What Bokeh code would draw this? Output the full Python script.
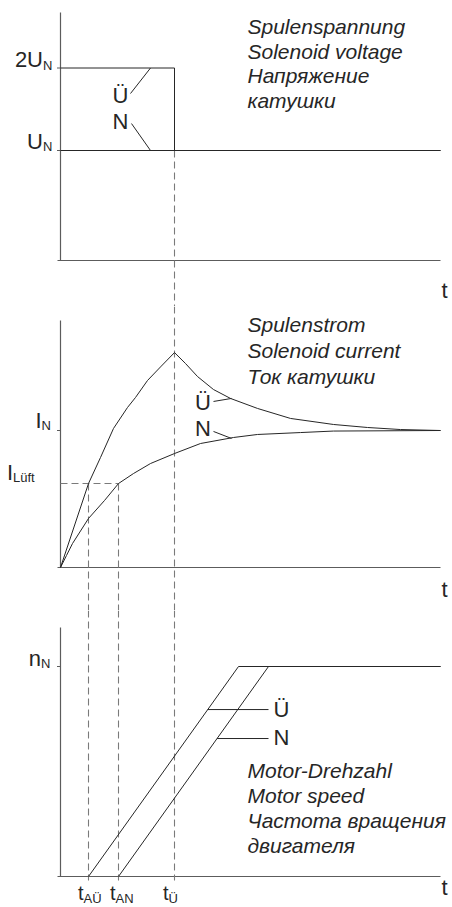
import numpy as np
from bokeh.plotting import figure
from bokeh.layouts import column
from bokeh.models import Range1d
from bokeh.embed import file_html
from bokeh.resources import INLINE
from bokeh.core.properties import value

# ---------------- data (time in diagram units, levels relative to nominal) ----------------
T_AU = 2.8      # t_AÜ : release with over-excitation
T_AN = 5.8      # t_AN : release with nominal voltage
T_U = 11.4      # t_Ü  : end of over-excitation
T_END = 38.0

# Panel 1: solenoid voltage (schematic levels)
V_UN = 1.0
V_2UN = 1.75
volt_u_t = [0.0, T_U, T_U, T_END]
volt_u_v = [V_2UN, V_2UN, V_UN, V_UN]
volt_n_t = [0.0, T_END]
volt_n_v = [V_UN, V_UN]

# Panel 2: solenoid current (I / I_N)
I_N = 1.0
I_LUFT = 0.613
cur_u_t = [0.0, 2.8, 4.0, 5.3, 6.7, 7.5, 8.7, 10.0, 11.4, 12.5, 13.7, 15.3, 17.0, 19.7, 23.0, 27.3, 30.7, 34.0, 38.0]
cur_u_i = [0.0, 0.613, 0.803, 1.015, 1.168, 1.241, 1.365, 1.464, 1.569, 1.489, 1.394, 1.299, 1.234, 1.161, 1.088, 1.044, 1.022, 1.007, 1.0]
cur_n_t = [0.0, 0.6, 1.2, 2.8, 4.4, 5.8, 7.3, 9.0, 11.4, 14.0, 17.3, 19.7, 24.0, 27.3, 38.0]
cur_n_i = [0.0, 0.088, 0.175, 0.358, 0.489, 0.613, 0.686, 0.759, 0.832, 0.905, 0.949, 0.971, 0.985, 0.996, 1.0]

# Panel 3: motor speed (n / n_N)
N_N = 1.0
spd_u_t = [T_AU, 17.8, T_END]
spd_u_n = [0.0, 1.0, 1.0]
spd_n_t = [T_AN, 20.8, T_END]
spd_n_n = [0.0, 1.0, 1.0]

texts_volt = ["Spulenspannung", "Solenoid voltage", "Напряжение", "катушки"]
texts_cur = ["Spulenstrom", "Solenoid current", "Ток катушки"]
texts_spd = ["Motor-Drehzahl", "Motor speed", "Частота вращения", "двигателя"]

# ---------------- styling / layout ----------------
FONT = value("Liberation Sans")
LINE = "#262626"
AXC = "#5c5c5c"
DASHC = "#7a7a7a"
TXT = "#262626"
W = 452
PX_PER_T = 10.0
X0 = -6.0
X1 = X0 + W / PX_PER_T
K_BASE = 0.37   # empirical baseline correction (fraction of font size)


def make_fig(height, y0, y1):
    p = figure(width=W, height=height, x_range=Range1d(X0, X1), y_range=Range1d(y0, y1),
               output_backend="svg", toolbar_location=None, min_border=0,
               x_axis_type=None, y_axis_type=None)
    p.grid.visible = False
    p.outline_line_color = None
    p.background_fill_color = "white"
    p.border_fill_color = "white"
    return p


def txt(p, x, y, s, size, align="left", style="normal", xo=0, yo=0):
    px = float(size.replace("px", ""))
    p.text(x=[x], y=[y], text=[s], text_font=FONT, text_font_size=size,
           text_font_style=style, text_align=align, text_baseline="alphabetic",
           text_color=TXT, x_offset=xo, y_offset=yo - K_BASE * px)


def sublabel(p, x, y, main, sub, size="22px", subsize="13px", xo=0, yo=0, sdy=2):
    txt(p, x, y, main, size, align="right", xo=xo, yo=yo)
    txt(p, x, y, sub, subsize, align="left", xo=xo, yo=yo + sdy)


def axes(p, top, ticks):
    p.line([0, 0], [0, top], line_color=AXC, line_width=1.2)
    p.line([-0.3, T_END], [0, 0], line_color=AXC, line_width=1.2)
    for tk in ticks:
        p.line([-0.35, 0.0], [tk, tk], line_color=AXC, line_width=1.2)


def dashed(p, xs, ys):
    p.line(xs, ys, line_color=DASHC, line_width=1.1, line_dash="7 4")


# ---------------- panel 1: voltage ----------------
ppu1, base1, top1, bot1 = 110.0, 260.0, 0.0, 306.0
y0_1, y1_1 = (base1 - bot1) / ppu1, (base1 - top1) / ppu1
p1 = make_fig(int(bot1 - top1), y0_1, y1_1)
axes(p1, 2.2545, [V_2UN, V_UN])
dashed(p1, [T_U, T_U], [V_UN, y0_1])
p1.line(volt_n_t, volt_n_v, line_color=LINE, line_width=1)
p1.line(volt_u_t, volt_u_v, line_color=LINE, line_width=1)
sublabel(p1, -1.75, V_2UN, "2U", "N")
sublabel(p1, -1.75, V_UN, "U", "N", yo=-1)
# leaders
p1.line([7.0, 9.0], [1.518, V_2UN], line_color=LINE, line_width=1)
p1.line([7.1, 9.0], [1.245, V_UN], line_color=LINE, line_width=1)
txt(p1, 6.0, 1.427, "Ü", "22px", align="center")
txt(p1, 6.0, 1.191, "N", "22px", align="center")
for i, s in enumerate(texts_volt):
    txt(p1, 18.7, 2.055 - i * 0.223, s, "21px", style="italic")
txt(p1, T_END, -0.345, "t", "22px", xo=1)

# ---------------- panel 2: current ----------------
ppu2, base2, top2, bot2 = 137.0, 567.0, 306.0, 610.0
y0_2, y1_2 = (base2 - bot2) / ppu2, (base2 - top2) / ppu2
p2 = make_fig(int(bot2 - top2), y0_2, y1_2)
axes(p2, 1.803, [I_N])
dashed(p2, [T_U, T_U], [y1_2, y0_2])
dashed(p2, [T_AU, T_AU], [I_LUFT, y0_2])
dashed(p2, [T_AN, T_AN], [I_LUFT, y0_2])
dashed(p2, [0.0, T_AN], [I_LUFT, I_LUFT])
p2.line(cur_u_t, cur_u_i, line_color=LINE, line_width=1)
p2.line(cur_n_t, cur_n_i, line_color=LINE, line_width=1)
sublabel(p2, -1.9, I_N, "I", "N", yo=-2)
sublabel(p2, -4.75, I_LUFT, "I", "Lüft", yo=-3)
p2.line([15.3, 17.1], [1.212, 1.234], line_color=LINE, line_width=1)
p2.line([15.3, 17.1], [0.993, 0.942], line_color=LINE, line_width=1)
txt(p2, 14.25, 1.146, "Ü", "22px", align="center")
txt(p2, 14.25, 0.956, "N", "22px", align="center")
for i, s in enumerate(texts_cur):
    txt(p2, 18.7, 1.715 - i * 0.19, s, "21px", style="italic")
txt(p2, T_END, -0.219, "t", "22px", xo=1)

# ---------------- panel 3: speed ----------------
ppu3, base3, top3, bot3 = 210.0, 876.0, 610.0, 907.0
y0_3, y1_3 = (base3 - bot3) / ppu3, (base3 - top3) / ppu3
p3 = make_fig(int(bot3 - top3), y0_3, y1_3)
axes(p3, 1.186, [N_N])
dash_end = -0.019
for tx in (T_AU, T_AN, T_U):
    dashed(p3, [tx, tx], [y1_3, dash_end])
p3.line(spd_u_t, spd_u_n, line_color=LINE, line_width=1)
p3.line(spd_n_t, spd_n_n, line_color=LINE, line_width=1)
sublabel(p3, -1.95, N_N, "n", "N")
lead_u, lead_n = 0.795, 0.657
p3.line([spd_u_t[0] + lead_u * (spd_u_t[1] - spd_u_t[0]), 20.8], [lead_u, lead_u], line_color=LINE, line_width=1)
p3.line([spd_n_t[0] + lead_n * (spd_n_t[1] - spd_n_t[0]), 20.8], [lead_n, lead_n], line_color=LINE, line_width=1)
txt(p3, 21.3, 0.757, "Ü", "22px")
txt(p3, 21.3, 0.624, "N", "22px")
for i, s in enumerate(texts_spd):
    txt(p3, 18.7, 0.467 - i * 0.119, s, "21px", style="italic")
sublabel(p3, T_AU, -0.114, "t", "AÜ", size="20px", xo=-5, sdy=3)
sublabel(p3, T_AN, -0.114, "t", "AN", size="20px", xo=-3, sdy=3)
sublabel(p3, T_U, -0.114, "t", "Ü", size="20px", xo=-6, sdy=3)
txt(p3, T_END, -0.0905, "t", "22px", xo=1)

layout = column(p1, p2, p3, spacing=0)
open("out.html", "w").write(file_html(layout, INLINE))
